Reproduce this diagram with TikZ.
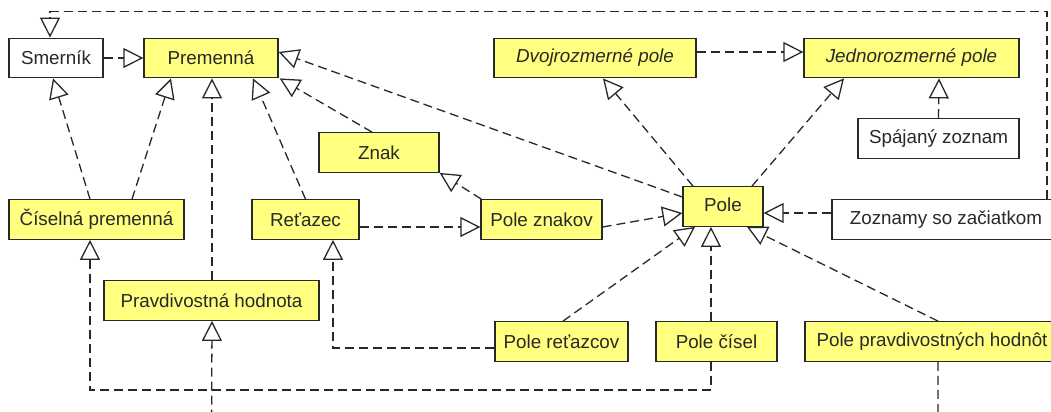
\documentclass[tikz,border=0pt]{standalone}
\usepackage{fontspec}
\setmainfont{Liberation Sans}
\usetikzlibrary{arrows.meta}
\definecolor{boxyellow}{RGB}{255,255,128}
\definecolor{ink}{RGB}{40,40,40}
\tikzset{
  box/.style={draw=ink, line width=0.65pt, inner sep=0pt, minimum height=19.75pt,
    font=\fontsize{9.4}{11}\selectfont, text=ink},
  ybox/.style={box, fill=boxyellow},
  wbox/.style={box, fill=white},
  real/.style={draw=ink, line width=0.65pt, dash pattern=on 4.5pt off 2.5pt,
    -{Triangle[open, fill=white, length=10pt, width=10pt]}},
}
\begin{document}
\begin{tikzpicture}[x=0.5pt, y=-0.5pt]
\useasboundingbox (0,0) rectangle (1051,412);
\clip (0,0) rectangle (1051,412);
\fill[white] (0,0) rectangle (1051,412);
% nodes
\node[wbox, minimum width=47pt] (sm) at (56,58) {Smerník};
\node[ybox, minimum width=67pt] (pr) at (211,58) {Premenná};
\node[ybox, minimum width=87.5pt] (cis) at (96.5,219.5) {Číselná premenná};
\node[ybox, minimum width=53.5pt] (ret) at (305.5,219.5) {Reťazec};
\node[ybox, minimum width=107.5pt] (prh) at (211.5,300.5) {Pravdivostná hodnota};
\node[ybox, minimum width=60pt] (zn) at (379,152.5) {Znak};
\node[ybox, minimum width=60.5pt] (pz) at (541.5,219.5) {Pole znakov};
\node[ybox, minimum width=101pt] (dv) at (595,58) {\itshape Dvojrozmerné pole};
\node[ybox, minimum width=107.5pt] (jd) at (911.5,58) {\itshape Jednorozmerné pole};
\node[wbox, minimum width=80.5pt] (sp) at (938.5,138.5) {Spájaný zoznam};
\node[ybox, minimum width=40pt] (pole) at (723,206.5) {\raisebox{1.5pt}{Pole}};
\node[wbox, minimum width=114pt] (zz) at (946,219.5) {Zoznamy so začiatkom};
\node[ybox, minimum width=66.5pt] (prc) at (561.5,341.5) {Pole reťazcov};
\node[ybox, minimum width=60.5pt] (pc) at (716.5,341.5) {Pole čísel};
\node[ybox, minimum width=127pt] (ppv) at (932,341.5) {Pole pravdivostných hodnôt};
\coordinate (offbottom) at (0,440);
% connectors
\draw[real] ([xshift=50.5pt]zz.north) |- ([xshift=-3pt,yshift=13pt]sm.north) -- ([xshift=-3pt]sm.north);
\draw[real] (sm.east) -- (pr.west);
\draw[real] ([xshift=-3.25pt]cis.north) -- ([xshift=-1.5pt]sm.south);
\draw[real] ([xshift=17.75pt]cis.north) -- ([xshift=-20pt]pr.south);
\draw[real] ([xshift=0.25pt]prh.north) -- ([xshift=0.5pt]pr.south);
\draw[real] (ret.north) -- ([xshift=21pt]pr.south);
\draw[real] ([xshift=-3.5pt]zn.north) -- ([xshift=0.5pt]pr.south east);
\draw[real] ([yshift=4.75pt]pole.west) -- ([yshift=3pt]pr.east);
\draw[real] ([xshift=0.5pt]pz.north west) -- (zn.south east);
\draw[real] ([yshift=-3.75pt]ret.east) -- ([yshift=-3.75pt]pz.west);
\draw[real] ([yshift=-3.75pt]pz.east) -- ([yshift=-3.25pt]pole.west);
\draw[real] ([xshift=0.75pt]prc.north) -- ([xshift=-14pt]pole.south);
\draw[real] ([xshift=-2.75pt]pc.north) -- ([xshift=-6pt]pole.south);
\draw[real] ([xshift=3pt]ppv.north) -- ([xshift=12pt]pole.south);
\draw[real] ([yshift=3.25pt]zz.west) -- ([yshift=-3.25pt]pole.east);
\draw[real] ([xshift=-15pt]pole.north) -- ([xshift=4pt]dv.south);
\draw[real] ([xshift=14.5pt]pole.north) -- ([xshift=-33.75pt]jd.south);
\draw[real] (sp.north) -- ([xshift=13.75pt]jd.south);
\draw[real] ([yshift=3pt]dv.east) -- ([yshift=3pt]jd.west);
\draw[real] ([yshift=-3.25pt]prc.west) -| ([xshift=13.75pt]ret.south);
\draw[real] ([xshift=-2.75pt]pc.south) -- ([xshift=-2.75pt,yshift=-14pt]pc.south) -| ([xshift=-3.25pt]cis.south);
\draw[real] ([xshift=3pt]ppv.south) |- (offbottom -| prh.south) -- ([xshift=0.25pt]prh.south);
\end{tikzpicture}
\end{document}
